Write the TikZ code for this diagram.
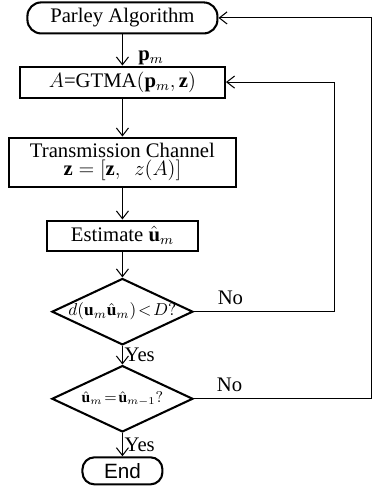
\documentclass[tikz,border=0pt,12pt]{standalone}
\usepackage{amsmath, amssymb}
\usepackage{fontspec}
\setmainfont{Liberation Serif}
\setsansfont{Liberation Sans}
\usetikzlibrary{arrows.meta, positioning, shapes.geometric}

\begin{document}
\begin{tikzpicture}[
  node distance=20pt,
  box/.style={rectangle, draw, line width=1.2pt, inner sep=2pt, minimum height=18pt},
  term/.style={rectangle, draw, rounded corners=8pt, line width=1.2pt, inner sep=2pt, minimum height=18pt},
  decision/.style={diamond, draw, line width=1.2pt, inner sep=0pt, minimum width=81.8pt, minimum height=38.5pt},
  arrow/.style={-{Straight Barb[length=4.5pt, width=7pt]}, line width=0.6pt}
  ]

\useasboundingbox (0,0) rectangle (216.3pt,-283pt);

\node[term, minimum width=110.2pt] (start) at (71pt,-10.4pt) {Parley Algorithm};

\node[box, below=18pt of start, minimum width=118.9pt] (gtma) {$A$=GTMA$(\mathbf{p}_m,\mathbf{z})$};

\node[box, below=22pt of gtma, minimum width=131.7pt, minimum height=28.4pt, align=center] (channel) {
  Transmission Channel \\[-4pt]
  $\mathbf{z}=[\mathbf{z},~~z(A)]$
};

\node[box, below=18.5pt of channel, minimum width=87.6pt, minimum height=17.4pt] (estimate) {Estimate $\hat{\mathbf{u}}_m$};

\node[decision, below=15pt of estimate, font=\footnotesize] (check1) {\makebox[0pt]{$d(\mathbf{u}_m\hat{\mathbf{u}}_m)\!<\!D?$}};

\node[decision, below=10.8pt of check1, font=\fontsize{9}{11}\selectfont] (check2) {\makebox[0pt]{$\hat{\mathbf{u}}_m\!=\!\hat{\mathbf{u}}_{m-1}?$}};

\node[term, below=13.5pt of check2, rounded corners=7pt, minimum width=46.4pt, minimum height=15.7pt, font=\sffamily] (stop) {End};

\coordinate (loop1) at (193.7pt,0);
\coordinate (loop2) at (215.6pt,0);

\draw[arrow] (start) -- node[right, pos=0.75, xshift=5pt] {$\mathbf{p}_m$} (gtma);
\draw[arrow] (gtma) -- (channel);
\draw[arrow] (channel) -- (estimate);
\draw[arrow] (estimate) -- (check1);
\draw[arrow] (check1) -- node[right, inner sep=1pt] {Yes} (check2);
\draw[arrow] (check2) -- node[right, inner sep=1pt] {Yes} (stop);
\draw[arrow] (check1.east) -- node[above, pos=0.26] {No} (check1.east -| loop1) |- (gtma.east);
\draw[arrow] (check2.east) -- node[above, pos=0.2] {No} (check2.east -| loop2) |- (start.east);

\end{tikzpicture}
\end{document}
